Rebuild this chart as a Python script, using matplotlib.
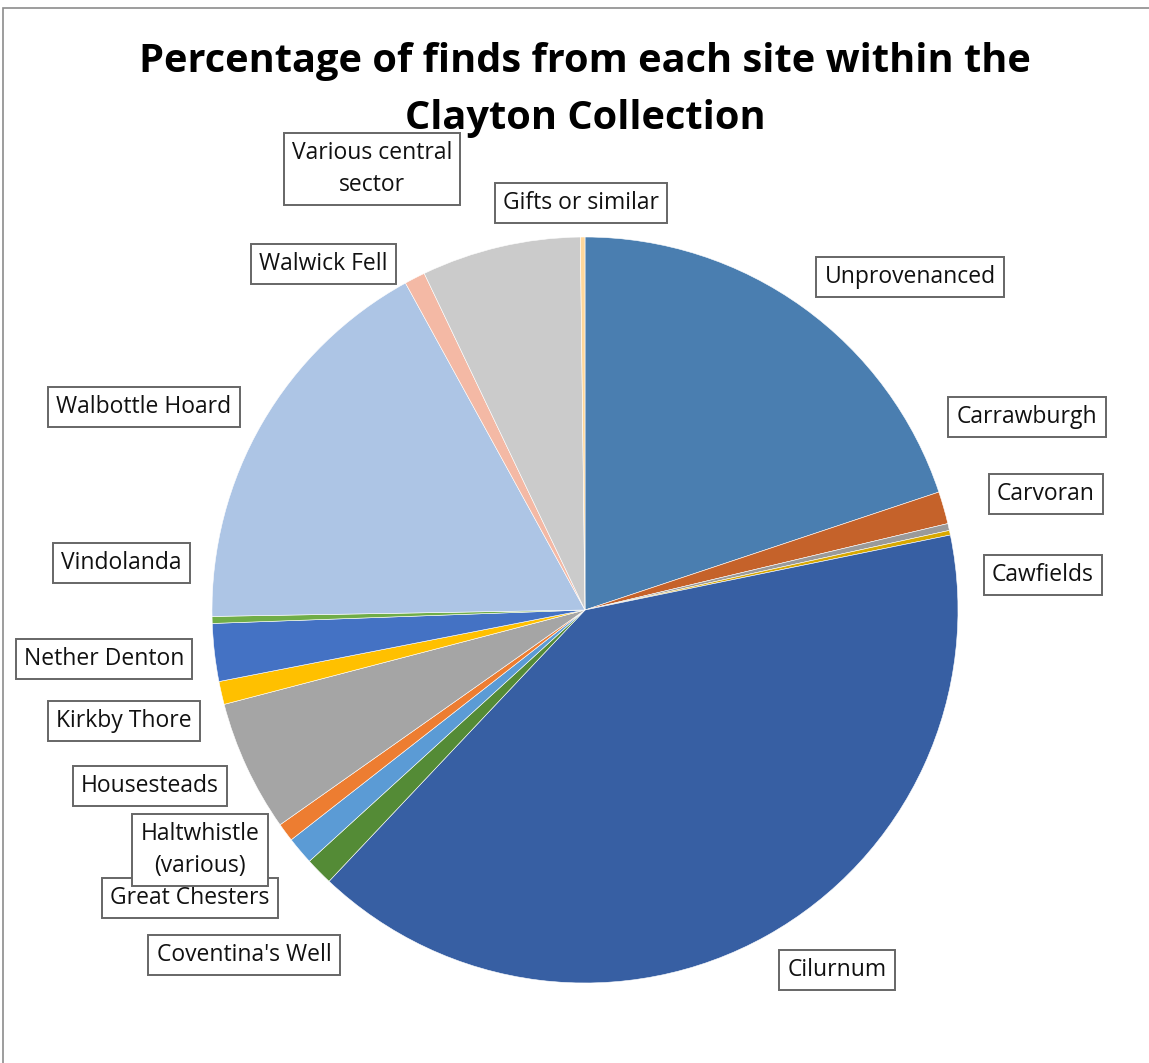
import matplotlib.pyplot as plt
from matplotlib.patches import Rectangle

plt.rcParams['font.family'] = ['Open Sans', 'DejaVu Sans']

# share of finds per site (%), clockwise from 12 o'clock
sites = ['Unprovenanced', 'Carrawburgh', 'Carvoran', 'Cawfields', 'Cilurnum',
         "Coventina's Well", 'Great Chesters', 'Haltwhistle\n(various)',
         'Housesteads', 'Kirkby Thore', 'Nether Denton', 'Vindolanda',
         'Walbottle Hoard', 'Walwick Fell', 'Various central\nsector',
         'Gifts or similar']
percent = [19.9, 1.4, 0.3, 0.2, 40.3, 1.2, 1.2, 0.8,
           5.7, 1.0, 2.5, 0.3, 17.3, 0.9, 6.9, 0.2]
colors = ['#4a7eb0', '#c5622a', '#9a9a9a', '#d8a800', '#375fa3',
          '#548b36', '#5b9bd5', '#ed7d31', '#a5a5a5', '#ffc000',
          '#4472c4', '#70ad47', '#adc5e5', '#f4b9a5', '#cbcbcb', '#ffd79a']

# label centres in pixels (x from left, y from top)
label_px = [(910, 277), (1027, 417), (1046, 494), (1043, 575), (837, 970),
            (244, 955), (190, 898), (200, 850), (150, 786), (124, 721),
            (104, 659), (121, 563), (144, 407), (323, 264), (372, 169),
            (581, 203)]

W, H = 1149, 1063
fig = plt.figure(figsize=(W / 100, H / 100), dpi=100)

# chart area border (runs off the right and bottom edges)
fig.patches.append(Rectangle((3 / W, -0.1), 1.2, 1 - 8 / H + 0.1,
                             transform=fig.transFigure, fill=False,
                             edgecolor='#8c8c8c', linewidth=1.2))

cx, cy, r = 585, 610, 373
ax = fig.add_axes([(cx - r) / W, (H - cy - r) / H, 2 * r / W, 2 * r / H])
ax.pie(percent, colors=colors, startangle=90, counterclock=False,
       radius=1, wedgeprops=dict(linewidth=0.4, edgecolor='white'))
ax.set_xlim(-1, 1)
ax.set_ylim(-1, 1)
ax.axis('off')

for name, (px, py) in zip(sites, label_px):
    fig.text(px / W, 1 - py / H, name, ha='center', va='center',
             fontsize=16.5, color='#111111', linespacing=1.45,
             bbox=dict(boxstyle='square,pad=0.36', facecolor='white',
                       edgecolor='#666666', linewidth=1.4))

fig.text(585 / W, 1 - 90 / H,
         'Percentage of finds from each site within the\nClayton Collection',
         ha='center', va='center', fontsize=28.6, fontweight='bold',
         linespacing=1.62)

fig.savefig('out.png', dpi=100)
